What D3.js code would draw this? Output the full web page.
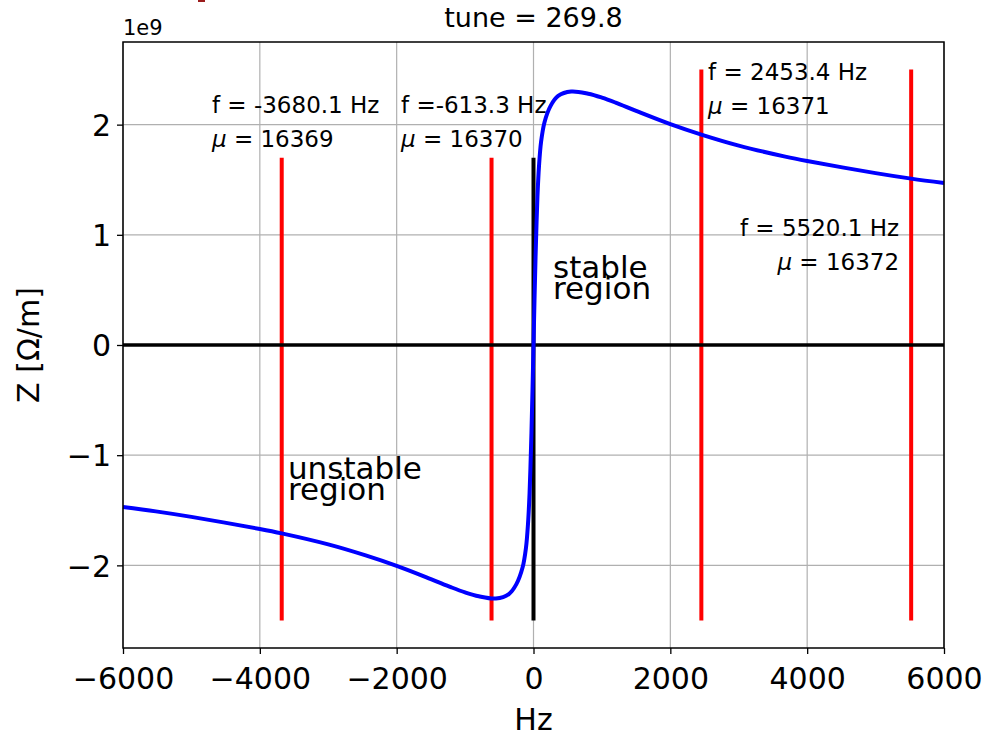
<!DOCTYPE html>
<html>
<head>
<meta charset="utf-8">
<script src="https://cdn.jsdelivr.net/npm/d3@7"></script>
<style>
  body { margin: 0; background: #fff; }
  text { font-family: "DejaVu Sans", sans-serif; fill: #000; }
</style>
</head>
<body>
<div class="chart"></div>
<script>
// impedance curve (Hz, Z in 1e9 Ohm/m)
const curveHz = [-6000, -5520, -5000, -4000, -3680, -3000, -2453, -2000, -1500, -1200, -1000, -800, -550, -360, -250, -160, -110, -80, -60, -45, -30, -15, 0,
  15, 30, 45, 60, 80, 110, 160, 250, 360, 550, 800, 1000, 1200, 1500, 2000, 2453, 3000, 3680, 4000, 5000, 5520, 6000];
const curveZ = [-1.47, -1.51, -1.56, -1.67, -1.71, -1.81, -1.91, -2.005, -2.125, -2.20, -2.245, -2.28, -2.30, -2.26, -2.17, -2.02, -1.84, -1.62, -1.38, -1.12, -0.80, -0.42, 0,
  0.42, 0.80, 1.12, 1.38, 1.62, 1.84, 2.02, 2.17, 2.26, 2.30, 2.28, 2.245, 2.20, 2.125, 2.005, 1.91, 1.81, 1.71, 1.67, 1.56, 1.51, 1.47];

// modes
const modeHz = [-3680.1, -613.3, 2453.4, 5520.1];
const modeMu = [16369, 16370, 16371, 16372];
const modeTop = [1.7, 1.7, 2.5, 2.5];
const modeBottom = -2.5;
const modeLabel = ["f = -3680.1 Hz", "f =-613.3 Hz", "f = 2453.4 Hz", "f = 5520.1 Hz"];
// where the labels sit (Hz, 1e9) and how they are aligned
const labelHz = [-4700, -1937, 2551, 5344];
const labelZ = [1.80, 1.80, 2.10, 0.68];
const labelAnchor = ["start", "start", "start", "end"];

const xTicks = [-6000, -4000, -2000, 0, 2000, 4000, 6000];
const yTicks = [-2, -1, 0, 1, 2];

const width = 988;
const height = 738;
const m = { left: 123, right: 944, top: 42, bottom: 648 };

const x = d3.scaleLinear().domain([-6000, 6000]).range([m.left, m.right]);
const y = d3.scaleLinear().domain([-2.75, 2.75]).range([m.bottom, m.top]);

const svg = d3.select(".chart").append("svg")
  .attr("width", width)
  .attr("height", height);

// stray mark at the top edge
svg.append("rect").attr("x", 198).attr("y", 0).attr("width", 7).attr("height", 2).style("fill", "#9b1c1c");

// grid
const grid = svg.append("g").attr("class", "grid");
grid.selectAll(".gx").data(xTicks).enter().append("line")
  .attr("x1", d => x(d)).attr("x2", d => x(d))
  .attr("y1", m.top).attr("y2", m.bottom)
  .style("stroke", "#b0b0b0").style("stroke-width", 1.2);
grid.selectAll(".gy").data(yTicks).enter().append("line")
  .attr("x1", m.left).attr("x2", m.right)
  .attr("y1", d => y(d)).attr("y2", d => y(d))
  .style("stroke", "#b0b0b0").style("stroke-width", 1.2);

// red mode lines
svg.append("g").selectAll(".mode").data(modeHz).enter().append("line")
  .attr("x1", d => x(d)).attr("x2", d => x(d))
  .attr("y1", (d, i) => y(modeTop[i])).attr("y2", y(modeBottom))
  .style("stroke", "#ff0000").style("stroke-width", 4);

// black zero lines
svg.append("line")
  .attr("x1", m.left).attr("x2", m.right).attr("y1", y(0)).attr("y2", y(0))
  .style("stroke", "#000").style("stroke-width", 3.5);
svg.append("line")
  .attr("x1", x(0)).attr("x2", x(0)).attr("y1", y(1.7)).attr("y2", y(modeBottom))
  .style("stroke", "#000").style("stroke-width", 4);

// impedance curve
const line = d3.line()
  .x((d, i) => x(curveHz[i]))
  .y(d => y(d))
  .curve(d3.curveCatmullRom.alpha(0.5));
svg.append("path")
  .datum(curveZ)
  .attr("d", line)
  .style("fill", "none")
  .style("stroke", "#0000ff")
  .style("stroke-width", 4);

// axes
const fmt = d3.format("d");
const xAxis = d3.axisBottom(x).tickValues(xTicks).tickFormat(fmt).tickSize(6).tickPadding(6);
const yAxis = d3.axisLeft(y).tickValues(yTicks).tickFormat(fmt).tickSize(6).tickPadding(6);
const gx = svg.append("g").attr("transform", `translate(0, ${m.bottom})`).call(xAxis);
const gy = svg.append("g").attr("transform", `translate(${m.left}, 0)`).call(yAxis);
[gx, gy].forEach(g => {
  g.select(".domain").remove();
  g.selectAll("line").style("stroke", "#000").style("stroke-width", 1.3);
  g.selectAll("text").style("font-size", "30px").style("font-family", "DejaVu Sans");
});
gx.selectAll("text").attr("dy", "0.95em");
gy.selectAll("text").attr("dy", "0.36em");

// frame
svg.append("rect")
  .attr("x", m.left).attr("y", m.top)
  .attr("width", m.right - m.left).attr("height", m.bottom - m.top)
  .style("fill", "none").style("stroke", "#000").style("stroke-width", 1.5);

// mode labels
const labels = svg.append("g").selectAll(".label").data(modeHz).enter().append("text")
  .attr("text-anchor", (d, i) => labelAnchor[i])
  .style("font-size", "23px");
labels.append("tspan")
  .attr("x", (d, i) => x(labelHz[i]))
  .attr("y", (d, i) => y(labelZ[i]) - 34)
  .text((d, i) => modeLabel[i]);
const mu = labels.append("tspan")
  .attr("x", (d, i) => x(labelHz[i]))
  .attr("y", (d, i) => y(labelZ[i]));
mu.append("tspan").style("font-style", "italic").text("μ");
mu.append("tspan").text((d, i) => " = " + modeMu[i]);

// region notes
const notes = [["stable", "region"], ["unstable", "region"]];
const noteHz = [285, -3589];
const noteZ = [0.42, -1.41];
notes.forEach((n, i) => {
  const t = svg.append("text").style("font-size", "31px");
  n.forEach((s, j) => {
    t.append("tspan")
      .attr("x", x(noteHz[i]))
      .attr("y", y(noteZ[i]) - (n.length - 1 - j) * 21)
      .text(s);
  });
});

// titles
svg.append("text").attr("x", (m.left + m.right) / 2).attr("y", 27)
  .attr("text-anchor", "middle").style("font-size", "27px").text("tune = 269.8");
svg.append("text").attr("x", m.left).attr("y", 35)
  .style("font-size", "21px").text("1e9");
svg.append("text").attr("x", (m.left + m.right) / 2).attr("y", 730)
  .attr("text-anchor", "middle").style("font-size", "30px").text("Hz");
svg.append("text")
  .attr("transform", `translate(39, ${(m.top + m.bottom) / 2}) rotate(-90)`)
  .attr("text-anchor", "middle").style("font-size", "30px").text("Z [Ω/m]");
</script>
</body>
</html>
